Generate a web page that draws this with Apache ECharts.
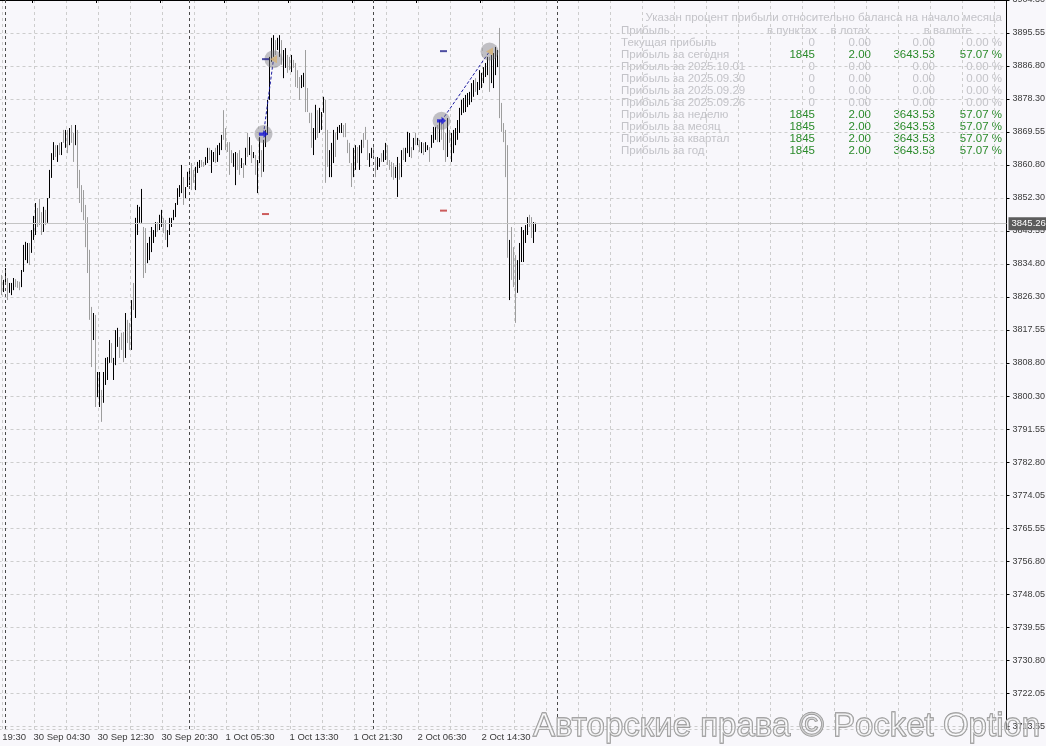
<!DOCTYPE html>
<html><head><meta charset="utf-8">
<script src="https://cdn.jsdelivr.net/npm/echarts@6/dist/echarts.min.js"></script>
<style>html,body{margin:0;padding:0;background:#f8f7fb;}#c{width:1046px;height:746px;}</style>
</head><body><div id="c"></div>
<script>
// ---------- DATA ----------
// M15 bars, starting at firstBarTime; high / low / direction (1 = up, black; 0 = down, grey)
const firstBarTime = '29 Sep 23:30';
const barHigh = [
3831.8,3830.5,3833.6,3831.0,3829.7,3829.7,3831.0,3830.7,3830.2,3830.0,
3833.1,3839.7,3840.5,3840.2,3840.2,3843.6,3847.3,3850.7,3849.4,3851.8,
3848.3,3849.7,3848.9,3852.0,3859.4,3863.8,3866.7,3865.9,3865.9,3866.5,
3866.7,3869.9,3869.9,3869.9,3870.4,3871.2,3869.1,3871.2,3869.9,3859.4,
3855.4,3854.1,3850.2,3847.0,3838.4,3823.4,3821.8,3821.3,3806.3,3806.3,
3801.6,3806.3,3810.0,3810.2,3814.7,3813.9,3810.0,3817.3,3817.9,3815.5,
3816.6,3816.8,3821.8,3820.0,3819.2,3825.2,3829.7,3846.8,3850.2,3849.7,
3854.4,3844.4,3844.1,3840.2,3841.8,3844.4,3843.6,3845.7,3845.7,3847.6,
3848.9,3846.8,3846.2,3843.6,3846.8,3846.8,3848.9,3850.7,3854.6,3855.4,
3860.7,3857.5,3854.9,3858.9,3859.4,3861.2,3859.4,3860.2,3861.5,3862.0,
3862.0,3861.5,3862.8,3865.2,3865.2,3864.6,3864.1,3865.2,3865.9,3866.5,
3868.6,3875.1,3870.4,3866.7,3866.7,3864.6,3863.8,3864.1,3863.8,3864.6,
3862.5,3861.2,3865.2,3869.1,3868.0,3865.9,3864.1,3863.3,3862.0,3868.0,
3864.6,3867.3,3869.9,3877.8,3889.1,3894.1,3894.8,3893.5,3894.1,3894.8,
3893.5,3890.9,3891.4,3889.6,3889.1,3889.6,3888.3,3887.5,3885.6,3883.8,
3884.3,3884.9,3890.9,3880.9,3874.4,3874.4,3870.4,3876.5,3875.1,3875.7,
3874.6,3878.6,3877.8,3869.9,3864.6,3866.5,3869.9,3869.1,3870.7,3871.2,
3871.7,3871.2,3871.7,3867.3,3866.5,3861.2,3865.2,3865.9,3865.4,3865.9,
3867.3,3869.1,3870.7,3867.3,3863.8,3865.2,3865.4,3862.8,3862.8,3862.5,
3863.8,3864.6,3866.5,3865.9,3862.0,3861.5,3861.2,3860.2,3862.8,3861.2,
3864.6,3865.2,3865.2,3869.4,3869.1,3865.4,3867.8,3869.1,3867.8,3867.3,
3866.7,3866.5,3866.7,3865.9,3865.4,3868.6,3870.7,3870.7,3871.2,3872.5,
3872.5,3871.7,3869.1,3873.0,3869.9,3869.1,3869.9,3870.4,3872.5,3875.7,
3877.8,3878.3,3879.1,3879.6,3879.9,3882.2,3883.0,3883.5,3882.5,3885.6,
3884.9,3886.4,3887.5,3889.1,3889.1,3889.6,3890.1,3891.7,3890.9,3896.7,
3877.0,3871.7,3869.9,3865.9,3841.0,3844.4,3839.1,3837.0,3835.7,3840.2,
3844.4,3843.6,3844.9,3847.0,3847.6,3847.0,3845.7,3845.5
];
const barLow = [
3826.5,3827.3,3829.7,3825.2,3827.1,3826.5,3827.8,3828.6,3828.4,3827.8,
3828.6,3832.6,3835.7,3834.9,3834.4,3837.6,3841.0,3842.3,3844.4,3844.9,
3842.3,3843.1,3844.9,3845.5,3852.0,3857.3,3862.0,3862.8,3861.5,3863.3,
3863.3,3866.5,3865.2,3863.8,3865.9,3866.5,3861.5,3865.9,3854.6,3850.7,
3848.3,3846.2,3839.1,3832.3,3820.0,3807.6,3814.7,3797.1,3799.7,3797.1,
3793.2,3798.2,3802.9,3804.2,3808.7,3808.7,3804.2,3808.1,3812.9,3810.0,
3812.1,3808.9,3810.0,3813.9,3812.1,3812.1,3822.6,3820.5,3842.3,3845.5,
3845.5,3831.0,3832.3,3834.9,3835.7,3837.8,3840.2,3841.8,3843.1,3843.6,
3844.4,3842.8,3841.0,3839.1,3842.3,3844.4,3846.2,3847.0,3850.2,3852.3,
3853.3,3850.2,3852.0,3854.9,3855.4,3854.1,3856.0,3854.1,3858.6,3859.9,
3860.2,3860.2,3860.7,3861.2,3862.0,3858.6,3861.5,3861.2,3861.5,3863.3,
3864.6,3867.3,3864.6,3864.1,3858.1,3861.2,3860.2,3855.4,3859.4,3858.1,
3859.9,3857.3,3860.7,3862.8,3863.3,3861.2,3862.5,3858.1,3853.3,3861.2,
3857.5,3858.9,3865.4,3868.6,3877.8,3887.8,3889.1,3889.6,3890.9,3889.1,
3887.0,3883.5,3886.2,3884.9,3885.6,3885.1,3886.2,3881.2,3880.9,3877.8,
3880.9,3881.2,3874.6,3874.6,3871.7,3865.2,3863.3,3867.3,3867.8,3869.1,
3869.9,3874.4,3856.0,3860.2,3857.5,3857.5,3861.2,3862.8,3867.3,3869.1,
3869.1,3868.0,3868.0,3863.8,3861.2,3854.9,3857.5,3859.4,3861.2,3859.4,
3863.8,3865.2,3867.3,3862.0,3860.2,3862.5,3862.5,3857.5,3859.4,3860.2,
3861.5,3861.5,3862.0,3860.7,3859.4,3857.5,3856.8,3857.3,3852.3,3856.8,
3857.5,3862.0,3861.5,3863.8,3862.8,3862.5,3864.6,3865.9,3865.9,3864.1,
3863.8,3863.3,3864.1,3864.6,3861.5,3865.2,3866.5,3867.3,3866.7,3866.7,
3867.3,3864.6,3861.5,3862.8,3866.5,3861.5,3863.8,3865.9,3867.3,3869.1,
3873.8,3874.4,3874.6,3875.9,3876.5,3877.2,3878.6,3879.9,3879.1,3880.4,
3880.9,3882.2,3883.8,3884.3,3879.9,3882.2,3880.9,3884.3,3886.4,3873.0,
3869.4,3866.7,3857.5,3836.3,3825.2,3830.5,3828.6,3819.2,3827.1,3830.5,
3835.2,3835.2,3840.2,3842.3,3844.4,3841.5,3840.2,3843.1
];
const barUp = [
0,1,1,0,1,1,1,0,0,0, 1,1,1,1,0,1,1,1,0,0, 0,1,0,1,1,1,1,0,1,0,
1,0,1,0,1,0,0,1,0,0, 0,0,0,0,0,0,1,0,1,1, 0,1,1,1,1,0,1,1,1,0,
0,0,1,0,0,1,0,1,1,1, 1,0,0,1,1,1,1,1,0,1, 1,0,0,1,1,1,1,1,1,1,
1,0,1,1,1,0,0,1,1,1, 0,0,1,1,0,1,1,0,1,1, 1,0,0,0,0,0,1,1,0,0,
1,0,1,0,1,0,1,0,1,1, 0,1,1,1,1,1,1,0,1,1, 0,1,1,0,0,1,0,0,0,0,
1,1,0,0,0,0,1,1,0,1, 1,1,0,0,1,1,1,0,1,1, 1,0,0,0,0,0,1,1,0,1,
1,0,0,0,1,1,0,0,1,1, 0,1,1,0,0,0,0,1,1,0, 1,0,1,1,1,0,1,0,1,0,
1,0,1,1,0,1,1,1,0,1, 0,0,0,1,0,1,1,1,1,1, 1,1,1,1,1,1,1,0,1,1,
1,1,1,1,0,1,1,1,1,0, 0,0,0,0,1,0,0,0,1,1, 1,1,1,1,0,0,1,1
];
const lastPrice = 3845.26;

// trades
const entryTimes  = ['1 Oct 10:15', '2 Oct 09:30'];
const entryPrices = [3868.8, 3872.3];
const exitTimes   = ['1 Oct 11:30', '2 Oct 15:30'];
const exitPrices  = [3888.5, 3890.5];
const levelTimes  = ['1 Oct 10:30', '2 Oct 09:45'];
const tpPrices    = [3888.5, 3890.6];
const slPrices    = [3847.8, 3848.7];

// axes
const priceMin = 3712.5, priceMax = 3904.04;
const yTickLabels = ['3904.30','3895.55','3886.80','3878.30','3869.55','3860.80','3852.30','3843.55',
  '3834.80','3826.30','3817.55','3808.80','3800.30','3791.55','3782.80','3774.05','3765.55',
  '3756.80','3748.05','3739.55','3730.80','3722.05','3713.55'];
const xTickLabels = ['29 Sep 19:30','30 Sep 04:30','30 Sep 12:30','30 Sep 20:30','1 Oct 05:30',
  '1 Oct 13:30','1 Oct 21:30','2 Oct 06:30','2 Oct 14:30'];
const daySeparators = ['30 Sep 01:00','1 Oct 01:00','2 Oct 01:00','3 Oct 01:00'];

// profit table
const tableTitle = 'Указан процент прибыли относительно баланса на начало месяца';
const tableHeader = ['Прибыль','в пунктах','в лотах','в валюте'];
const rowLabels = ['Текущая прибыль','Прибыль за сегодня','Прибыль за 2025.10.01','Прибыль за 2025.09.30',
  'Прибыль за 2025.09.29','Прибыль за 2025.09.26','Прибыль за неделю','Прибыль за месяц',
  'Прибыль за квартал','Прибыль за год'];
const rowPoints = ['0','1845','0','0','0','0','1845','1845','1845','1845'];
const rowLots   = ['0.00','2.00','0.00','0.00','0.00','0.00','2.00','2.00','2.00','2.00'];
const rowMoney  = ['0.00','3643.53','0.00','0.00','0.00','0.00','3643.53','3643.53','3643.53','3643.53'];
const rowPct    = ['0.00 %','57.07 %','0.00 %','0.00 %','0.00 %','0.00 %','57.07 %','57.07 %','57.07 %','57.07 %'];
const watermark = 'Авторские права © Pocket Option';

// ---------- BUILD ----------
const MONTHS = ['Jan','Feb','Mar','Apr','May','Jun','Jul','Aug','Sep','Oct','Nov','Dec'];
const pad = n => (n < 10 ? '0' : '') + n;
function buildCategories(n) {
  const out = [];
  let t = Date.UTC(2025, 8, 29, 19, 30);
  while (out.length < n) {
    const d = new Date(t);
    if (d.getUTCHours() !== 0) out.push(d.getUTCDate() + ' ' + MONTHS[d.getUTCMonth()] + ' ' + pad(d.getUTCHours()) + ':' + pad(d.getUTCMinutes()));
    t += 15 * 60000;
  }
  return out;
}
const categories = buildCategories(519);
const startIdx = categories.indexOf(firstBarTime);
const candleData = categories.map((c, j) => {
  const i = j - startIdx;
  if (i < 0 || i >= barHigh.length) return ['-', '-', '-', '-'];
  return barUp[i] ? [barLow[i], barHigh[i], barLow[i], barHigh[i]] : [barHigh[i], barLow[i], barLow[i], barHigh[i]];
});

const FONT = '"Liberation Sans", Arial, sans-serif';
const GREY = '#c3c3c8', GREEN = '#2a8a2a';

const graphics = [];
graphics.push({type: 'text', x: 1002, y: 18, style: {text: tableTitle, fill: GREY, font: '11.5px ' + FONT, align: 'right', verticalAlign: 'middle'}});
const hdrX = [621, 817, 870, 972];
tableHeader.forEach((t, k) => graphics.push({type: 'text', x: hdrX[k], y: 30.5,
  style: {text: t, fill: GREY, font: '11.5px ' + FONT, align: k === 0 ? 'left' : 'right', verticalAlign: 'middle'}}));
const colX = [815, 871, 935, 1002];
rowLabels.forEach((lab, r) => {
  const y = 42.5 + 12 * r;
  const col = rowPoints[r] !== '0' ? GREEN : GREY;
  graphics.push({type: 'text', x: 621, y, style: {text: lab, fill: GREY, font: '11.5px ' + FONT, verticalAlign: 'middle'}});
  [rowPoints[r], rowLots[r], rowMoney[r], rowPct[r]].forEach((v, k) => graphics.push({type: 'text', x: colX[k], y,
    style: {text: v, fill: col, font: '11.5px ' + FONT, align: 'right', verticalAlign: 'middle'}}));
});
graphics.push({type: 'text', x: 533, y: 727, z: 100, style: {text: watermark, font: '33px ' + FONT,
  fill: 'rgba(255,255,255,0.45)', stroke: '#8e8e8e', lineWidth: 1.3, verticalAlign: 'middle'}});

const series = [{
  type: 'candlestick', data: candleData, large: true, largeThreshold: 10,
  xAxisIndex: 0, yAxisIndex: 0,
  itemStyle: {color: '#000000', color0: '#9e9e9e', borderColor: '#000000', borderColor0: '#9e9e9e', borderWidth: 1},
  markLine: {
    silent: true, symbol: 'none', animation: false,
    data: [
      {yAxis: lastPrice, lineStyle: {color: '#c4c4c4', type: 'solid', width: 1},
       label: {show: true, position: 'end', distance: 2, formatter: lastPrice.toFixed(2), color: '#ffffff',
               backgroundColor: '#5c5c5c', padding: [2, 3, 1, 3], fontSize: 9.5, fontFamily: FONT}},
      ...daySeparators.map(d => ({xAxis: d, lineStyle: {color: '#4a4a4a', type: [3, 3], width: 1}, label: {show: false}}))
    ]
  }
}];
entryTimes.forEach((t, k) => series.push({type: 'line', z: 3, symbol: 'none', silent: true,
  data: [[t, entryPrices[k]], [exitTimes[k], exitPrices[k]]],
  lineStyle: {color: '#1a1aa0', type: [3, 2], width: 1}}));
series.push({type: 'scatter', z: 4, silent: true, symbol: 'circle', symbolSize: 18,
  itemStyle: {color: 'rgba(120,120,125,0.55)'},
  data: entryTimes.map((t, k) => [t, entryPrices[k]]).concat(exitTimes.map((t, k) => [t, exitPrices[k]]))});
series.push({type: 'scatter', z: 5, silent: true, symbol: 'path://M0,3 L5,3 L5,0 L10,5 L5,10 L5,7 L0,7 Z', symbolSize: [9, 8],
  itemStyle: {color: '#1414d8'}, data: entryTimes.map((t, k) => [t, entryPrices[k]])});
series.push({type: 'scatter', z: 5, silent: true, symbol: 'triangle', symbolRotate: 90, symbolSize: [8, 7],
  itemStyle: {color: '#d4b274'}, data: exitTimes.map((t, k) => [t, exitPrices[k]])});
series.push({type: 'scatter', z: 5, silent: true, symbol: 'rect', symbolSize: [7, 2],
  itemStyle: {color: '#22228a'}, data: levelTimes.map((t, k) => [t, tpPrices[k]])});
series.push({type: 'scatter', z: 5, silent: true, symbol: 'rect', symbolSize: [7, 2],
  itemStyle: {color: '#c03434'}, data: levelTimes.map((t, k) => [t, slPrices[k]])});

const option = {
  animation: false,
  backgroundColor: '#f8f7fb',
  grid: {left: -31.5, right: 39.5, top: 0, bottom: 17, containLabel: false, outerBoundsMode: 'none'},
  xAxis: {
    type: 'category', data: categories, boundaryGap: true,
    axisLine: {show: true, lineStyle: {color: '#000', width: 1}},
    axisTick: {show: true, length: 3, interval: (i, v) => xTickLabels.includes(v), lineStyle: {color: '#000'}},
    axisLabel: {show: true, interval: (i, v) => xTickLabels.includes(v), align: 'left', margin: 3,
      color: '#3a3a3a', fontSize: 9.5, fontFamily: FONT, hideOverlap: false},
    splitLine: {show: true, interval: (i) => i % 16 === 1, lineStyle: {color: '#cdcdcd', type: [3, 3], width: 1}}
  },
  yAxis: [
    {type: 'value', min: priceMin, max: priceMax, show: false, scale: true},
    {type: 'value', inverse: true, min: 0, max: 22.09, interval: 1, position: 'right',
      axisLine: {show: true, lineStyle: {color: '#000', width: 1}},
      axisTick: {show: true, length: 3, lineStyle: {color: '#000'}},
      axisLabel: {show: true, margin: 6, color: '#3a3a3a', fontSize: 9, fontFamily: FONT,
        formatter: v => (Math.abs(v - Math.round(v)) < 1e-6 ? (yTickLabels[Math.round(v)] || '') : '')},
      splitLine: {show: true, lineStyle: {color: '#cdcdcd', type: [3, 3], width: 1}}}
  ],
  series,
  graphic: graphics
};
const chart = echarts.init(document.getElementById('c'), null, {renderer: 'canvas'});
chart.setOption(option);
</script>
</body></html>
